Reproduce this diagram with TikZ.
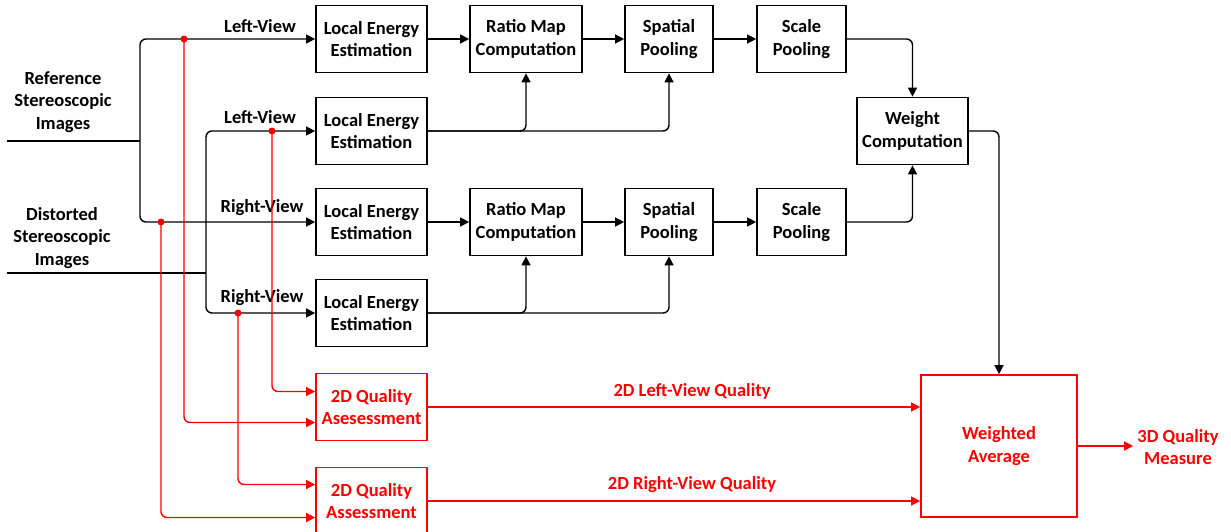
\documentclass[tikz,border=0pt]{standalone}
\usepackage{fontspec}
\setmainfont{Carlito}
\usetikzlibrary{arrows.meta,calc}

\tikzset{
  lbl/.style={font=\fontsize{18.5}{22.5}\selectfont\bfseries, align=center, inner sep=0pt},
  blk/.style={lbl, draw, line width=1.7pt, minimum width=111pt, minimum height=67pt},
  redblk/.style={blk, draw=red, text=red},
  conn/.style={line width=1.4pt, rounded corners=6pt},
  arr/.style={conn, -{Triangle[length=9pt,width=9pt]}},
  rarr/.style={arr, draw=red},
  rconn/.style={conn, draw=red},
  dot/.style={circle, fill=red, inner sep=0pt, minimum size=7pt},
}

\begin{document}
\begin{tikzpicture}[x=1pt, y=-1pt]
\useasboundingbox (0,0) rectangle (1231,531);

% processing blocks
\node[blk] (LE1) at (371.5,39) {Local Energy\\Estimation};
\node[blk, minimum width=112pt] (RM1) at (526,39) {Ratio Map\\Computation};
\node[blk, minimum width=88pt] (SP1) at (669,39) {Spatial\\Pooling};
\node[blk, minimum width=89pt] (SC1) at (801.5,39) {Scale\\Pooling};
\node[blk] (LE2) at (371.5,131) {Local Energy\\Estimation};
\node[blk] (LE3) at (371.5,222) {Local Energy\\Estimation};
\node[blk, minimum width=112pt] (RM3) at (526,222) {Ratio Map\\Computation};
\node[blk, minimum width=88pt] (SP3) at (669,222) {Spatial\\Pooling};
\node[blk, minimum width=89pt] (SC3) at (801.5,222) {Scale\\Pooling};
\node[blk] (LE4) at (371.5,313) {Local Energy\\Estimation};
\node[blk] (WC) at (912.5,131) {Weight\\Computation};

% quality blocks
\node[redblk] (QL) at (371.5,407) {2D Quality\\Asesessment};
\node[redblk] (QR) at (371.5,501) {2D Quality\\Assessment};
\node[redblk, minimum width=156pt, minimum height=142pt] (WA) at (999,446) {Weighted\\Average};
\node[lbl, text=red, inner sep=4pt] (out) at (1178,447) {3D Quality\\Measure};

% inputs
\node[lbl] (ref) at (63,102) {Reference\\Stereoscopic\\Images};
\node[lbl] (dist) at (62,238) {Distorted\\Stereoscopic\\Images};
\coordinate (refin) at (7,141);
\coordinate (refj) at (140,141);
\coordinate (distin) at (7,273);
\coordinate (distj) at (206,273);

\draw[conn] (refin) -- (refj);
\draw[arr] (refj) |- (LE1.west);
\draw[arr] (refj) |- (LE3.west);
\draw[conn] (distin) -- (distj);
\draw[arr] (distj) |- (LE2.west);
\draw[arr] (distj) |- (LE4.west);

% view labels
\node[lbl] (v1) at (260,26) {Left-View};
\node[lbl] (v2) at (260,117) {Left-View};
\node[lbl] (v3) at (262,208) {Right-View};
\node[lbl] (v4) at (262,298) {Right-View};

% upper chain
\draw[arr] (LE1) -- (RM1);
\draw[arr] (RM1) -- (SP1);
\draw[arr] (SP1) -- (SC1);
\draw[arr] (LE2.east) -| (RM1.south);
\draw[arr] (LE2.east) -| (SP1.south);
\draw[arr] (SC1.east) -| (WC.north);

% lower chain
\draw[arr] (LE3) -- (RM3);
\draw[arr] (RM3) -- (SP3);
\draw[arr] (SP3) -- (SC3);
\draw[arr] (LE4.east) -| (RM3.south);
\draw[arr] (LE4.east) -| (SP3.south);
\draw[arr] (SC3.east) -| (WC.south);

\draw[arr] (WC.east) -| (WA.north);

% taps feeding the 2D quality blocks
\coordinate (t1) at (184,39);
\coordinate (t2) at (272,131);
\coordinate (t3) at (161,222);
\coordinate (t4) at (238,313);
\draw[rarr] (t2) |- ([yshift=15.5pt]QL.west);
\draw[rarr] (t1) |- ([yshift=-15.5pt]QL.west);
\draw[rarr] (t4) |- ([yshift=16.5pt]QR.west);
\draw[rarr] (t3) |- ([yshift=-16.5pt]QR.west);
\node[dot] at (t1) {};
\node[dot] at (t2) {};
\node[dot] at (t3) {};
\node[dot] at (t4) {};

% outputs
\draw[rarr] (QL.east) -- (QL.east -| WA.west);
\draw[rarr] (QR.east) -- (QR.east -| WA.west);
\node[lbl, text=red] (ql) at (692,391) {2D Left-View Quality};
\node[lbl, text=red] (qr) at (692,485) {2D Right-View Quality};
\draw[rarr] (WA.east) -- (WA.east -| out.west);
\end{tikzpicture}
\end{document}
